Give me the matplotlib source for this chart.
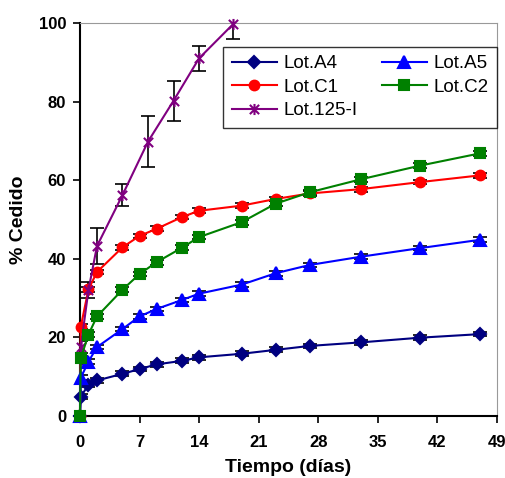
import numpy as np
import matplotlib
matplotlib.use("Agg")
import matplotlib.pyplot as plt
from matplotlib.path import Path

plt.rcParams['font.family'] = ['Liberation Sans', 'DejaVu Sans']

# tiempo (dias)
t = [0, 0.1, 1, 2, 5, 7, 9, 12, 14, 19, 23, 27, 33, 40, 47]
a4 = [0, 4.9, 7.9, 9.0, 10.7, 11.9, 13.1, 14.0, 14.9, 15.8, 16.8, 17.8, 18.7, 19.9, 20.8]
a5 = [0, 9.7, 13.8, 17.5, 22.1, 25.3, 27.2, 29.5, 31.1, 33.4, 36.3, 38.4, 40.5, 42.7, 44.8]
c1 = [0, 22.7, 32.2, 36.6, 42.9, 45.8, 47.6, 50.6, 52.2, 53.5, 55.2, 56.6, 57.7, 59.5, 61.2]
c2 = [0, 14.7, 20.7, 25.3, 32.1, 36.1, 39.1, 42.8, 45.5, 49.3, 54.0, 56.9, 60.2, 63.7, 66.8]
err_small = [0, 0.6, 0.6, 0.6, 0.6, 0.6, 0.6, 0.6, 0.6, 0.6, 0.6, 0.6, 0.6, 0.6, 0.6]

t125 = [0, 0.1, 1, 2, 5, 8, 11, 14, 18]
l125 = [0, 17.6, 32.0, 43.2, 56.2, 69.8, 80.2, 91.0, 99.7]
err125 = [0, 1.5, 2.0, 4.5, 2.8, 6.4, 5.1, 3.2, 3.7]

# asterisco tipo Excel (X + linea vertical)
star = Path([(-1, -1), (1, 1), (-1, 1), (1, -1), (0, -1.2), (0, 1.2)],
            [Path.MOVETO, Path.LINETO, Path.MOVETO, Path.LINETO, Path.MOVETO, Path.LINETO])

fig = plt.figure(figsize=(5.06, 4.78), dpi=100)
ax = fig.add_axes([0.158, 0.13, 0.824, 0.822])

series = [
    ("Lot.A4", t, a4, err_small, "#000080", "D", 6.5),
    ("Lot.C1", t, c1, err_small, "#FF0000", "o", 7),
    ("Lot.125-I", t125, l125, err125, "#800080", star, 8),
    ("Lot.A5", t, a5, err_small, "#0000FF", "^", 8),
    ("Lot.C2", t, c2, err_small, "#008000", "s", 6.5),
]

handles = []
for name, x, y, e, col, mk, ms in series:
    ax.errorbar(x, y, yerr=e, fmt="none", ecolor="black", elinewidth=1.2,
                capsize=5, capthick=1.2, zorder=2)
    h, = ax.plot(x, y, color=col, lw=1.5, marker=mk, ms=ms, mfc=col, mec=col,
                 mew=1.5, label=name, zorder=3, clip_on=False)
    handles.append(h)

ax.set_xlim(0, 49)
ax.set_ylim(0, 100)
ax.set_xticks(np.arange(0, 50, 7))
ax.set_yticks(np.arange(0, 101, 20))
ax.tick_params(direction="out", length=5, width=1.2, labelsize=12)
ax.tick_params(axis="x", pad=9)
ax.tick_params(axis="y", pad=5)
for lab in ax.get_xticklabels() + ax.get_yticklabels():
    lab.set_fontweight("bold")

ax.spines["left"].set_linewidth(1.5)
ax.spines["bottom"].set_linewidth(1.5)
ax.spines["top"].set_color("#999999")
ax.spines["right"].set_color("#999999")

ax.set_xlabel("Tiempo (días)", fontsize=14, fontweight="bold", labelpad=6)
ax.set_ylabel("% Cedido", fontsize=14, fontweight="bold", labelpad=8)

leg = ax.legend(handles=handles, ncol=2, loc="upper right",
                bbox_to_anchor=(1.0, 0.94), fontsize=13.5, frameon=True,
                fancybox=False, edgecolor="black", handlelength=2.4,
                handletextpad=0.35, columnspacing=1.3, labelspacing=0.35,
                borderpad=0.45, borderaxespad=0.0)
leg.get_frame().set_linewidth(1.0)

fig.savefig("out.png", dpi=100)
